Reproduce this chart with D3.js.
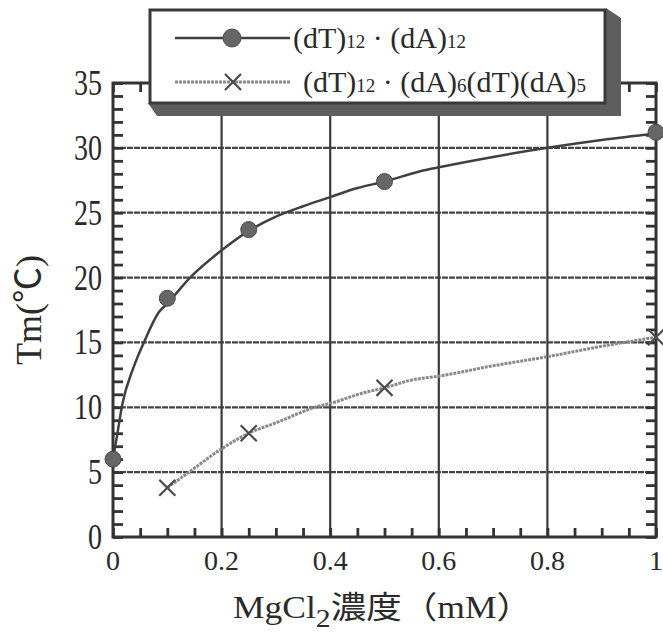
<!DOCTYPE html>
<html>
<head>
<meta charset="utf-8">
<script src="https://cdn.jsdelivr.net/npm/d3@7"></script>
<style>
  body { margin: 0; background: #fff; }
  text { font-family: "Liberation Serif", "Noto Sans CJK JP", serif; fill: #2a2a2a; }
</style>
</head>
<body>
<div id="chart"></div>
<script>
// Size of the page
const width = 663;
const height = 633;

// Measured points, (dT)12·(dA)12
const concFull = [0, 0.1, 0.25, 0.5, 1];
const tmFull = [6.0, 18.4, 23.7, 27.4, 31.2];

// Measured points, (dT)12·(dA)6(dT)(dA)5
const concMis = [0.1, 0.25, 0.5, 1];
const tmMis = [3.8, 8.0, 11.5, 15.4];

// Fitted curves
const fitFullX = [0, 0.007, 0.017, 0.038, 0.058, 0.084, 0.1, 0.142, 0.2, 0.25, 0.3, 0.35, 0.4, 0.45, 0.5, 0.566, 0.6, 0.7, 0.8, 0.9, 1.0];
const fitFullY = [6.0, 7.7, 10.2, 13.1, 15.1, 17.3, 18.0, 20.0, 22.1, 23.6, 24.7, 25.5, 26.2, 26.9, 27.4, 28.2, 28.5, 29.3, 30.0, 30.6, 31.1];
const fitMisX = [0.1, 0.14, 0.2, 0.25, 0.3, 0.38, 0.4, 0.46, 0.5, 0.55, 0.6, 0.7, 0.8, 0.9, 1.0];
const fitMisY = [3.8, 5.0, 6.8, 8.0, 8.8, 10.1, 10.3, 11.1, 11.5, 12.1, 12.4, 13.2, 13.9, 14.7, 15.4];

// Axis ticks
const xTicks = [0, 0.2, 0.4, 0.6, 0.8, 1];
const xTickLabels = ["0", "0.2", "0.4", "0.6", "0.8", "1"];
const yTicks = [0, 5, 10, 15, 20, 25, 30, 35];
const yTickLabels = ["0", "5", "10", "15", "20", "25", "30", "35"];

// Legend labels
const legendFull = [["(dT)", false], ["12", true], [" · ", false], ["(dA)", false], ["12", true]];
const legendMis = [["(dT)", false], ["12", true], [" · ", false], ["(dA)", false], ["6", true], ["(dT)(dA)", false], ["5", true]];

const svg = d3.select("#chart")
  .append("svg")
  .attr("width", width)
  .attr("height", height);

// Scales
const x = d3.scaleLinear().domain([0, 1]).range([113, 656]);
const y = d3.scaleLinear().domain([0, 35]).range([537, 83]);

// Grid lines
svg.append("g")
  .selectAll("line")
  .data(yTicks.slice(1, -1))
  .enter()
  .append("line")
  .attr("x1", x(0)).attr("x2", x(1))
  .attr("y1", d => y(d)).attr("y2", d => y(d))
  .attr("stroke", "#444")
  .attr("stroke-width", 2.2)
  .attr("stroke-dasharray", "6 1");

svg.append("g")
  .selectAll("line")
  .data(xTicks.slice(1, -1))
  .enter()
  .append("line")
  .attr("x1", d => x(d)).attr("x2", d => x(d))
  .attr("y1", y(0)).attr("y2", y(35))
  .attr("stroke", "#3a3a3a")
  .attr("stroke-width", 2.2);

// Minor ticks, all pointing inward
const minorX = d3.range(0, 1.0001, 0.05);
const minorY = d3.range(0, 35.5, 1);

function styleTicks(g) {
  g.select(".domain").remove();
  g.selectAll(".tick line").attr("stroke", "#333").attr("stroke-width", 2.8);
  g.selectAll(".tick text").remove();
}

svg.append("g").attr("transform", `translate(0,${y(0)})`)
  .call(d3.axisTop(x).tickValues(minorX).tickSize(9)).call(styleTicks);
svg.append("g").attr("transform", `translate(0,${y(35)})`)
  .call(d3.axisBottom(x).tickValues(minorX).tickSize(9)).call(styleTicks);
svg.append("g").attr("transform", `translate(${x(0)},0)`)
  .call(d3.axisRight(y).tickValues(minorY).tickSize(10)).call(styleTicks);
svg.append("g").attr("transform", `translate(${x(1)},0)`)
  .call(d3.axisLeft(y).tickValues(minorY).tickSize(10)).call(styleTicks);

// Frame
svg.append("rect")
  .attr("x", x(0)).attr("y", y(35))
  .attr("width", x(1) - x(0)).attr("height", y(0) - y(35))
  .attr("fill", "none")
  .attr("stroke", "#333")
  .attr("stroke-width", 3);

// Curves
const line = d3.line()
  .x(d => x(d[0]))
  .y(d => y(d[1]))
  .curve(d3.curveMonotoneX);

svg.append("path")
  .attr("d", line(d3.zip(fitMisX, fitMisY)))
  .attr("fill", "none")
  .attr("stroke", "#8a8a8a")
  .attr("stroke-width", 3)
  .attr("stroke-dasharray", "3 1");

svg.append("path")
  .attr("d", line(d3.zip(fitFullX, fitFullY)))
  .attr("fill", "none")
  .attr("stroke", "#404040")
  .attr("stroke-width", 2.5);

// Markers
const cross = d3.symbol().type(d3.symbolX).size(170);

svg.append("g")
  .selectAll("path")
  .data(d3.zip(concMis, tmMis))
  .enter()
  .append("path")
  .attr("d", cross)
  .attr("transform", d => `translate(${x(d[0])},${y(d[1])})`)
  .attr("fill", "none")
  .attr("stroke", "#4a4a4a")
  .attr("stroke-width", 2.2);

svg.append("g")
  .selectAll("circle")
  .data(d3.zip(concFull, tmFull))
  .enter()
  .append("circle")
  .attr("cx", d => x(d[0]))
  .attr("cy", d => y(d[1]))
  .attr("r", 8)
  .attr("fill", "#666")
  .attr("stroke", "#4a4a4a")
  .attr("stroke-width", 1);

// Tick labels
svg.append("g")
  .selectAll("text")
  .data(xTicks)
  .enter()
  .append("text")
  .attr("x", d => x(d))
  .attr("y", 570)
  .attr("text-anchor", "middle")
  .style("font-size", "28px")
  .text((d, i) => xTickLabels[i]);

svg.append("g")
  .selectAll("text")
  .data(yTicks)
  .enter()
  .append("text")
  .attr("transform", d => `translate(102,${y(d) + 12}) scale(0.8,1)`)
  .attr("text-anchor", "end")
  .style("font-size", "35px")
  .text((d, i) => yTickLabels[i]);

// Axis titles
const xTitle = svg.append("text")
  .attr("x", 233)
  .attr("y", 618)
  .attr("textLength", 299)
  .attr("lengthAdjust", "spacingAndGlyphs")
  .style("font-size", "31px");
xTitle.append("tspan").text("MgCl");
xTitle.append("tspan").attr("dy", 9).style("font-size", "26px").text("2");
xTitle.append("tspan").attr("dy", -9).text("濃度（mM）");

svg.append("text")
  .attr("transform", "translate(41,310) rotate(-90)")
  .attr("text-anchor", "middle")
  .style("font-size", "36px")
  .text("Tm(℃)");

// Legend box with shadow
const legend = svg.append("g");

legend.append("polygon")
  .attr("points", "606,8 621,18 621,116 157,116 148,103 606,103")
  .attr("fill", "#5e5e5e");

legend.append("rect")
  .attr("x", 150).attr("y", 10)
  .attr("width", 455).attr("height", 93)
  .attr("fill", "#fff")
  .attr("stroke", "#3a3a3a")
  .attr("stroke-width", 3);

// Row 1
legend.append("line")
  .attr("x1", 175).attr("x2", 290).attr("y1", 38).attr("y2", 38)
  .attr("stroke", "#404040").attr("stroke-width", 2.5);
legend.append("circle")
  .attr("cx", 232).attr("cy", 38).attr("r", 9)
  .attr("fill", "#666").attr("stroke", "#4a4a4a");

const t1 = legend.append("text").attr("x", 293).attr("y", 48).style("font-size", "30px");
t1.selectAll("tspan")
  .data(legendFull)
  .enter()
  .append("tspan")
  .style("font-size", d => d[1] ? "19px" : "30px")
  .text(d => d[0]);

// Row 2
legend.append("line")
  .attr("x1", 175).attr("x2", 290).attr("y1", 82).attr("y2", 82)
  .attr("stroke", "#8a8a8a").attr("stroke-width", 3)
  .attr("stroke-dasharray", "3 1");
legend.append("path")
  .attr("d", cross)
  .attr("transform", "translate(233,82)")
  .attr("fill", "none")
  .attr("stroke", "#4a4a4a")
  .attr("stroke-width", 2.2);

const t2 = legend.append("text").attr("x", 303).attr("y", 92).style("font-size", "30px");
t2.selectAll("tspan")
  .data(legendMis)
  .enter()
  .append("tspan")
  .style("font-size", d => d[1] ? "19px" : "30px")
  .text(d => d[0]);
</script>
</body>
</html>
